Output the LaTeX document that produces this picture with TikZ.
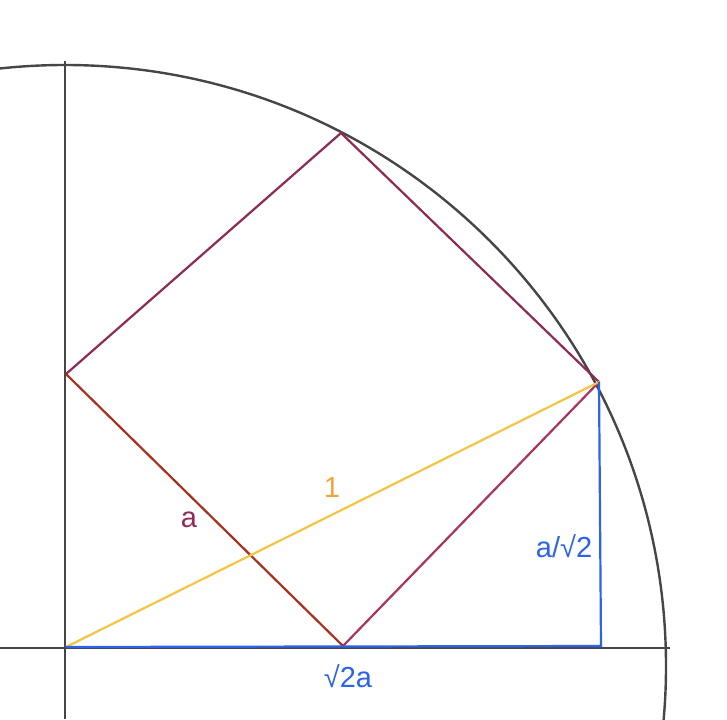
\documentclass[tikz,border=0pt]{standalone}
\usepackage{fontspec}
\setmainfont{Liberation Sans}
\usepackage{tikz}
\definecolor{axisgray}{HTML}{464646}
\definecolor{sqpurple}{HTML}{8E2A55}
\definecolor{sqpink}{HTML}{A8345F}
\definecolor{sqred}{HTML}{A8301E}
\definecolor{hypyellow}{HTML}{F4C443}
\definecolor{lblorange}{HTML}{F2A33A}
\definecolor{legblue}{HTML}{2D62EA}
\begin{document}
\begin{tikzpicture}[x=1pt, y=-1pt,
	axis/.style = {draw=axisgray, line width=2.4pt},
	edge/.style = {line width=2.2pt},
	lbl/.style = {inner sep=0pt, font=\fontsize{29}{30}\selectfont}]
				\useasboundingbox (0,0) rectangle (727,719);
				\clip (0,0) rectangle (727,719);
				\coordinate (O) at (66,647);
				\coordinate (C) at (65,666);
				\coordinate (L) at (66,374);
				\coordinate (B) at (343,646);
				\coordinate (R) at (599,382);
				\coordinate (T) at (341,133);
				\coordinate (F) at (601,646);
				\draw[axis] (C) circle (601);
				\draw[axis] (65,61) -- (65,719);
				\draw[axis] (0,648) -- (670,648);
				\draw[edge, sqpurple] (L) -- (T) -- (R);
				\draw[edge, sqpink] (R) -- (B);
				\draw[edge, sqred] (B) -- (L);
				\draw[edge, hypyellow] (O) -- (R);
				\draw[edge, legblue] (O) -- (F) -- (R);
				\node[lbl, text=sqpurple] (lbla) at (189,520) {a};
				\node[lbl, text=lblorange] (lblone) at (332,488) {1};
				\node[lbl, text=legblue] (lblh) at (564,546) {a/√2};
				\node[lbl, text=legblue] (lblw) at (348,676) {√2a};
\end{tikzpicture}
\end{document}
